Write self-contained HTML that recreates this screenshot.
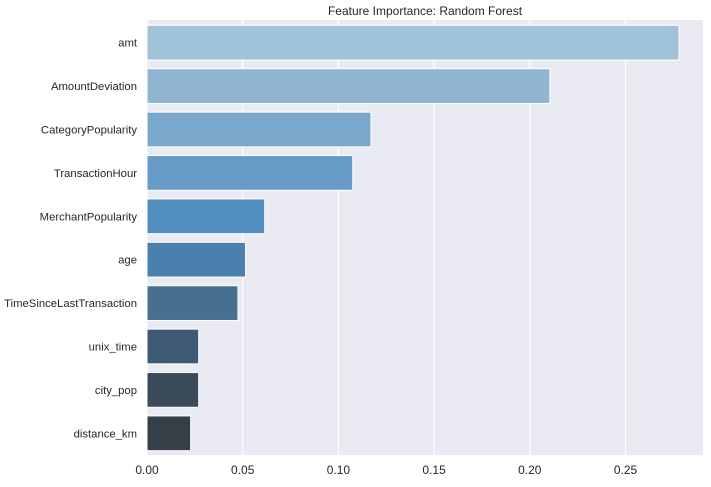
<!DOCTYPE html>
<html><head><meta charset="utf-8"><style>
body{margin:0;background:#fff;}
svg{font-family:"Liberation Sans",Arial,sans-serif;}
</style></head><body>
<svg id="c" width="711" height="482" xmlns="http://www.w3.org/2000/svg"></svg>
<script>
const categories=["amt","AmountDeviation","CategoryPopularity","TransactionHour","MerchantPopularity","age","TimeSinceLastTransaction","unix_time","city_pop","distance_km"];
const values=[0.278,0.2105,0.117,0.1075,0.0615,0.0515,0.0475,0.027,0.027,0.0228];
const colors=["#a1c3d9","#8fb5d1","#7aa8cb","#659bc6","#528ec0","#4a80ae","#466f90","#3f5a74","#3a4a5b","#363f47"];
const xTicks=[0,0.05,0.1,0.15,0.2,0.25];
const xTickLabels=["0.00","0.05","0.10","0.15","0.20","0.25"];
const L=147,R=703,T=21,B=455;
const NS="http://www.w3.org/2000/svg";
const svg=document.getElementById('c');
const xs=v=>L+v*1914;
const band=(B-T)/categories.length;
const ys=i=>T+i*band;
function mk(t,a,p){const e=document.createElementNS(NS,t);for(const k in a)e.setAttribute(k,a[k]);(p||svg).appendChild(e);return e;}
const bg=mk('rect',{x:L,y:T-1,width:R-L,height:B-T+1,fill:'#eaeaf2'});


xTicks.forEach((t,i)=>{
  const g=mk('line',{x1:xs(t),x2:xs(t),y1:T-1,y2:B,stroke:'#fff','stroke-width':1.2});
  
  
  const tx=mk('text',{x:xs(t),y:B+19,'text-anchor':'middle','font-size':12,fill:'#262626'});
  tx.textContent=xTickLabels[i];
  
  
});
categories.forEach((c,i)=>{
  const y=ys(i)+band*0.1,h=band*0.8;
  const r=mk('rect',{x:L,y:y,width:xs(values[i])-L,height:h,fill:colors[i],stroke:'#fff','stroke-width':1});
  
  
  const tx=mk('text',{x:L-10,y:ys(i)+band/2+4,'text-anchor':'end','font-size':11.3,fill:'#262626'});
  tx.textContent=c;
  
  
});
const ti=mk('text',{x:(L+R)/2,y:15,'text-anchor':'middle','font-size':12,fill:'#262626'});
ti.textContent="Feature Importance: Random Forest";


</script>
</body></html>
